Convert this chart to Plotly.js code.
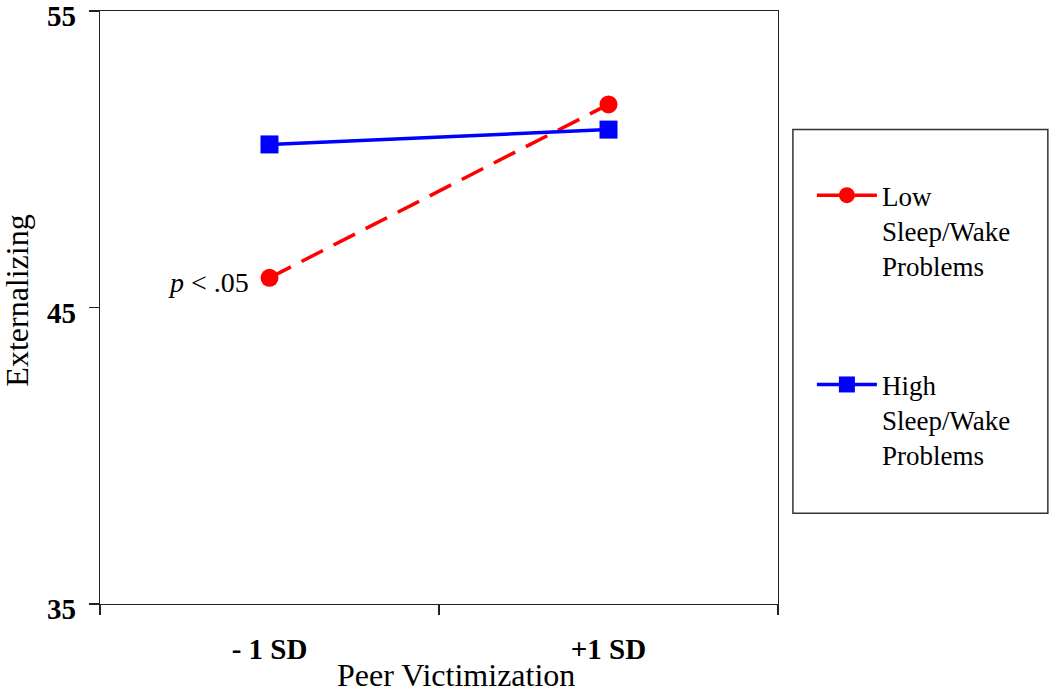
<!DOCTYPE html>
<html>
<head>
<meta charset="utf-8">
<script src="https://cdn.plot.ly/plotly-3.0.1.min.js"></script>
<style>html,body{margin:0;padding:0;background:#fff;}#chart{width:1050px;height:693px;}</style>
</head>
<body>
<div id="chart"></div>
<script>
// Data
var categories = ['- 1 SD', '+1 SD'];
var lowSleepWake = [46.0, 51.85];
var highSleepWake = [50.5, 51.0];
var seriesNames = ['Low<br>Sleep/Wake<br>Problems', 'High<br>Sleep/Wake<br>Problems'];
var yTicks = [35, 45, 55];

var FONT = '"Liberation Serif", "Times New Roman", serif';

var traces = [
  {
    x: categories, y: lowSleepWake, type: 'scatter', mode: 'lines+markers',
    name: seriesNames[0], legendgroup: 'low',
    line: {color: '#ff0000', width: 3.5, dash: '24px,12px'},
    marker: {symbol: 'circle', size: 18, color: '#ff0000'}
  },
  {
    x: categories, y: highSleepWake, type: 'scatter', mode: 'lines+markers',
    name: seriesNames[1], legendgroup: 'high',
    line: {color: '#0000ff', width: 3.5},
    marker: {symbol: 'square', size: 18, color: '#0000ff'}
  }
];

var layout = {
  width: 1050, height: 693,
  margin: {l: 100, r: 272, t: 11, b: 89},
  paper_bgcolor: '#ffffff', plot_bgcolor: '#ffffff',
  font: {family: FONT, color: '#000'},
  showlegend: true,
  xaxis: {
    type: 'category', range: [-0.5, 1.5], tickson: 'boundaries',
    ticks: 'outside', ticklen: 10, tickcolor: '#222', tickwidth: 1.2,
    showline: true, linecolor: '#222', linewidth: 1.2, mirror: true,
    showgrid: false, zeroline: false,
    tickfont: {family: FONT, size: 29, color: '#000', weight: 'bold'},
    ticklabelstandoff: 19, ticklabeloverflow: 'allow'
  },
  yaxis: {
    range: [35, 55], tickvals: yTicks, ticktext: yTicks.map(String),
    ticks: 'outside', ticklen: 10, tickcolor: '#222', tickwidth: 1.2,
    showline: true, linecolor: '#222', linewidth: 1.2, mirror: true,
    showgrid: false, zeroline: false,
    tickfont: {family: FONT, size: 29, color: '#000', weight: 'bold'},
    ticklabelstandoff: 7, ticklabelshift: 5, ticklabeloverflow: 'allow'
  },
  legend: {
    x: 1.05, xanchor: 'left', y: 0.73, yanchor: 'top',
    bgcolor: 'rgba(0,0,0,0)', borderwidth: 0,
    font: {family: FONT, size: 27, color: '#000'},
    itemwidth: 60, traceorder: 'grouped', tracegroupgap: 81,
    valign: 'top'
  },
  shapes: [
    {type: 'rect', xref: 'paper', yref: 'paper', x0: 1.022, x1: 1.398, y0: 0.153, y1: 0.80,
     line: {color: '#333', width: 1.5}, fillcolor: 'rgba(0,0,0,0)'}
  ],
  annotations: [
    {text: '<i>p</i> < .05', x: 0, y: lowSleepWake[0], xref: 'x', yref: 'y',
     xanchor: 'right', yanchor: 'middle', xshift: -19, yshift: -5, showarrow: false,
     font: {family: FONT, size: 28, color: '#000'}},
    {text: 'Peer Victimization', xref: 'paper', yref: 'paper', x: 0.525, y: -0.12,
     xanchor: 'center', yanchor: 'middle', showarrow: false,
     font: {family: FONT, size: 32, color: '#000'}},
    {text: 'Externalizing', xref: 'paper', yref: 'paper', x: -0.122, y: 0.512,
     xanchor: 'center', yanchor: 'middle', textangle: -90, showarrow: false,
     font: {family: FONT, size: 32, color: '#000'}}
  ]
};

Plotly.newPlot('chart', traces, layout, {displayModeBar: false, staticPlot: true});
</script>
</body>
</html>
